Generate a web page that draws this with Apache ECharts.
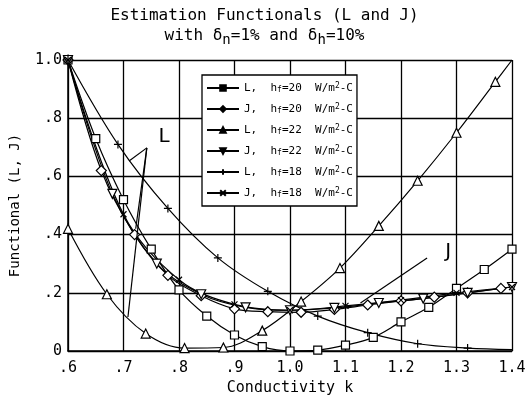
<!DOCTYPE html>
<html>
<head>
<meta charset="utf-8">
<title>Estimation Functionals</title>
<script src="https://cdn.jsdelivr.net/npm/echarts@6/dist/echarts.min.js"></script>
<style>
html, body { margin:0; height:100%; background:#fff; }
</style>
</head>
<body>
<div id="main" style="width:529px;height:401px;"></div>
<script>
// tick labels
var xTicks = ['.6', '.7', '.8', '.9', '1.0', '1.1', '1.2', '1.3', '1.4'];
var yTicks = ['0', '.2', '.4', '.6', '.8', '1.0'];

// L, hf=20 (squares)
var kL20 = [0.60, 0.65, 0.70, 0.75, 0.80, 0.85, 0.90, 0.95, 1.00, 1.05, 1.10, 1.15, 1.20, 1.25, 1.30, 1.35, 1.40];
var vL20 = [1.00, 0.73, 0.52, 0.35, 0.21, 0.12, 0.055, 0.015, 0.0, 0.003, 0.02, 0.047, 0.10, 0.15, 0.215, 0.28, 0.35];
// J, hf=20 (diamonds)
var kJ20 = [0.60, 0.66, 0.72, 0.78, 0.84, 0.90, 0.96, 1.02, 1.08, 1.14, 1.20, 1.26, 1.32, 1.38];
var vJ20 = [1.00, 0.62, 0.40, 0.26, 0.19, 0.145, 0.135, 0.133, 0.143, 0.158, 0.172, 0.185, 0.20, 0.215];
// L, hf=22 (triangles)
var kL22 = [0.60, 0.67, 0.74, 0.81, 0.88, 0.95, 1.02, 1.09, 1.16, 1.23, 1.30, 1.37, 1.40];
var vL22 = [0.42, 0.195, 0.06, 0.01, 0.012, 0.07, 0.17, 0.285, 0.43, 0.585, 0.75, 0.925, 1.0];
// J, hf=22 (down triangles)
var kJ22 = [0.60, 0.68, 0.76, 0.84, 0.92, 1.00, 1.08, 1.16, 1.24, 1.32, 1.40];
var vJ22 = [1.00, 0.54, 0.30, 0.195, 0.15, 0.14, 0.148, 0.165, 0.18, 0.20, 0.22];
// L, hf=18 (plus)
var kL18 = [0.60, 0.69, 0.78, 0.87, 0.96, 1.05, 1.14, 1.23, 1.32, 1.40];
var vL18 = [1.00, 0.71, 0.49, 0.32, 0.205, 0.12, 0.063, 0.025, 0.01, 0.005];
// J, hf=18 (cross)
var kJ18 = [0.60, 0.70, 0.80, 0.90, 1.00, 1.10, 1.20, 1.30, 1.40];
var vJ18 = [1.00, 0.47, 0.245, 0.16, 0.14, 0.155, 0.175, 0.20, 0.22];

var names = ['L20', 'J20', 'L22', 'J22', 'L18', 'J18'];
var legendText = {
    L20: '{t|L,  h}{s|f}{t|=20  W/m}{p|2}{t|-C}',
    J20: '{t|J,  h}{s|f}{t|=20  W/m}{p|2}{t|-C}',
    L22: '{t|L,  h}{s|f}{t|=22  W/m}{p|2}{t|-C}',
    J22: '{t|J,  h}{s|f}{t|=22  W/m}{p|2}{t|-C}',
    L18: '{t|L,  h}{s|f}{t|=18  W/m}{p|2}{t|-C}',
    J18: '{t|J,  h}{s|f}{t|=18  W/m}{p|2}{t|-C}'
};

var FONT = 'DejaVu Sans Mono';
var plusPath = 'path://M0,5L10,5M5,0L5,10';
var crossPath = 'path://M1,1L9,9M9,1L1,9';

function pairs(k, v) {
    var out = [];
    for (var i = 0; i < k.length; i++) out.push([k[i], v[i]]);
    return out;
}

function mkSeries(name, k, v, symbol, size, lastBare) {
    var d = pairs(k, v);
    if (lastBare) {
        var last = d.pop();
        d.push({ value: last, symbol: 'none' });
    }
    return {
        name: name,
        type: 'line',
        data: d,
        smooth: 0.35,
        symbol: symbol,
        symbolSize: size,
        showAllSymbol: true,
        lineStyle: { color: '#000', width: 1.2 },
        itemStyle: { color: '#fff', borderColor: '#000', borderWidth: 1.2 },
        emphasis: { disabled: true },
        z: 3
    };
}

var myChart = echarts.init(document.getElementById('main'));

var option = {
    animation: false,
    backgroundColor: '#fff',
    title: {
        left: 'center',
        top: 1,
        padding: [5, 0, 5, 40],
        text: 'Estimation Functionals (L and J)\n{a|with δ}{s|n}{a|=1% and δ}{s|h}{a|=10%}',
        textStyle: {
            fontFamily: FONT, fontSize: 16, fontWeight: 'normal', color: '#000', lineHeight: 20,
            rich: {
                a: { fontFamily: FONT, fontSize: 16, color: '#000' },
                s: { fontFamily: FONT, fontSize: 14, color: '#000', padding: [8, 0, 0, 0] }
            }
        }
    },
    grid: { left: 67, right: 17, top: 60, bottom: 50 },
    legend: {
        data: names,
        orient: 'vertical',
        left: 202,
        top: 75,
        width: 150,
        padding: [7, 4, 7, 4],
        itemWidth: 32,
        itemHeight: 7,
        itemGap: 9,
        backgroundColor: '#fff',
        borderColor: '#000',
        borderWidth: 1.3,
        itemStyle: { color: '#000', borderColor: '#000' },
        formatter: function (n) { return legendText[n]; },
        textStyle: {
            rich: {
                t: { fontFamily: FONT, fontSize: 11, color: '#000', lineHeight: 13 },
                s: { fontFamily: FONT, fontSize: 8, color: '#000', lineHeight: 8, padding: [4, 0, 0, 0] },
                p: { fontFamily: FONT, fontSize: 8, color: '#000', lineHeight: 8, padding: [0, 0, 4, 0] }
            }
        },
        z: 10
    },
    xAxis: {
        type: 'value',
        min: 0.6,
        max: 1.4,
        interval: 0.1,
        name: 'Conductivity k',
        nameLocation: 'middle',
        nameGap: 30,
        nameTextStyle: { fontFamily: FONT, fontSize: 15, color: '#000' },
        axisLine: { lineStyle: { color: '#000', width: 1.5 } },
        axisTick: { show: false },
        axisLabel: {
            fontFamily: FONT, fontSize: 15, color: '#000', margin: 10,
            formatter: function (v) { return xTicks[Math.round((v - 0.6) * 10)]; }
        },
        splitLine: { show: true, lineStyle: { color: '#000', width: 1.3 } }
    },
    yAxis: {
        type: 'value',
        min: 0,
        max: 1.0,
        interval: 0.2,
        name: 'Functional (L, J)',
        nameLocation: 'middle',
        nameGap: 46,
        nameTextStyle: { fontFamily: FONT, fontSize: 14, color: '#000' },
        axisLine: { show: true, lineStyle: { color: '#000', width: 1.5 } },
        axisTick: { show: false },
        axisLabel: {
            fontFamily: FONT, fontSize: 15, color: '#000', margin: 6,
            formatter: function (v) { return yTicks[Math.round(v * 5)]; }
        },
        splitLine: { show: true, lineStyle: { color: '#000', width: 1.3 } }
    },
    series: [
        mkSeries('L20', kL20, vL20, 'rect', 8, false),
        mkSeries('J20', kJ20, vJ20, 'diamond', 10, false),
        mkSeries('L22', kL22, vL22, 'triangle', 9, true),
        mkSeries('J22', kJ22, vJ22, 'path://M0,0L10,0L5,9Z', 9, false),
        mkSeries('L18', kL18, vL18, plusPath, 8, true),
        mkSeries('J18', kJ18, vJ18, crossPath, 6, false),
        {
            name: 'notes',
            type: 'line',
            data: [],
            silent: true,
            markLine: {
                silent: true,
                symbol: 'none',
                label: { show: false },
                lineStyle: { color: '#000', width: 1.2, type: 'solid' },
                data: [
                    [{ coord: [0.742, 0.698] }, { coord: [0.71, 0.653] }],
                    [{ coord: [0.742, 0.698] }, { coord: [0.722, 0.42] }],
                    [{ coord: [0.742, 0.698] }, { coord: [0.708, 0.117] }],
                    [{ coord: [1.247, 0.32] }, { coord: [1.127, 0.165] }]
                ]
            },
            markPoint: {
                silent: true,
                symbol: 'circle',
                symbolSize: 1,
                itemStyle: { color: 'rgba(0,0,0,0)' },
                label: { show: true, fontFamily: 'DejaVu Sans', fontSize: 20, color: '#000', position: 'inside' },
                data: [
                    { coord: [0.773, 0.735], value: 'L' },
                    { coord: [1.285, 0.34], value: 'J' }
                ]
            }
        }
    ]
};

myChart.setOption(option);
</script>
</body>
</html>
